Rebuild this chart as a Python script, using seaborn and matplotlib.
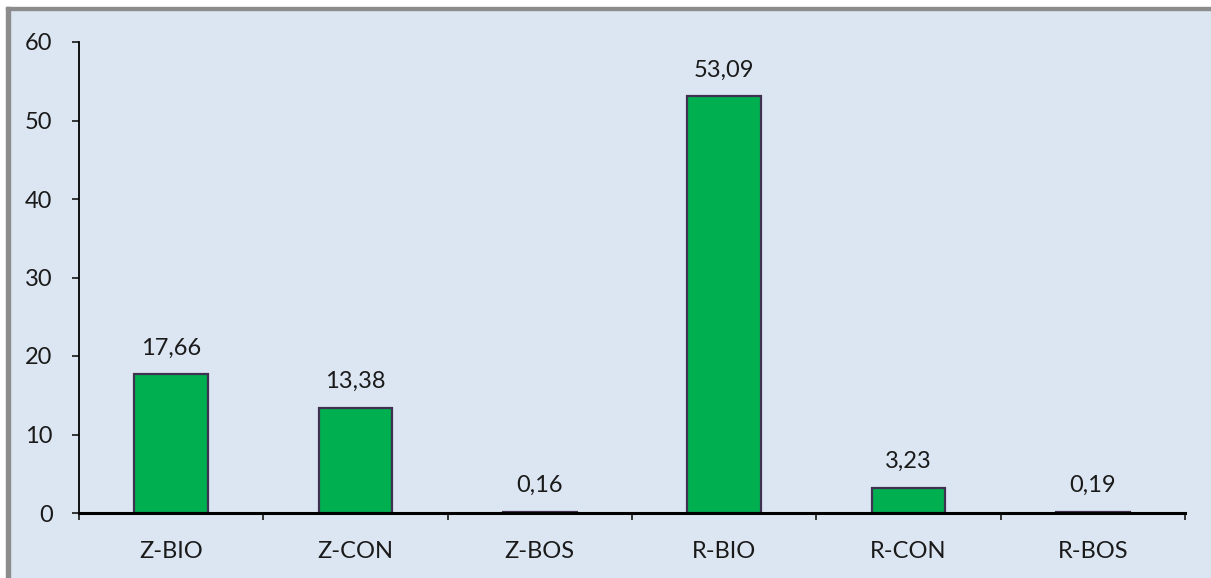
import numpy as np
import matplotlib.pyplot as plt
import matplotlib.patches as mpatches
import seaborn as sns

categories = ["Z-BIO", "Z-CON", "Z-BOS", "R-BIO", "R-CON", "R-BOS"]
values = [17.66, 13.38, 0.16, 53.09, 3.23, 0.19]
labels = ["17,66", "13,38", "0,16", "53,09", "3,23", "0,19"]

bg = "#DCE6F2"
sns.set_style("white")
plt.rcParams["font.family"] = ["Lato", "DejaVu Sans"]

fig = plt.figure(figsize=(12.11, 5.78), dpi=100, facecolor="white")
# light blue panel inside a thin gray frame
fig.add_artist(mpatches.Rectangle((6 / 1211, 0), 1, 1 - 7 / 578, transform=fig.transFigure,
                                  facecolor=bg, edgecolor="none", zorder=0))
fig.add_artist(mpatches.Rectangle((6 / 1211, 0), 4 / 1211, 1 - 7 / 578, transform=fig.transFigure,
                                  color="#8C8C8C", zorder=1))
fig.add_artist(mpatches.Rectangle((6 / 1211, 1 - 10 / 578), 1, 3 / 578, transform=fig.transFigure,
                                  color="#8C8C8C", zorder=1))

ax = fig.add_axes([79 / 1211, 1 - 513 / 578, (1185 - 79) / 1211, (513 - 42) / 578])
ax.set_facecolor(bg)

sns.barplot(x=categories, y=values, color="#00B050", width=0.4,
            edgecolor="#3F3151", linewidth=1.6, saturation=1, ax=ax)

for i, (v, lab) in enumerate(zip(values, labels)):
    ax.annotate(lab, (i, v), xytext=(0, 19), textcoords="offset points",
                ha="center", va="center", fontsize=17, color="#1a1a1a")

ax.set_xlim(-0.5, 5.5)
ax.set_ylim(0, 60)
ax.set_yticks(np.arange(0, 61, 10))
ax.tick_params(axis="y", direction="out", length=5, width=1.3, labelsize=17, pad=14,
               left=True, labelcolor="#1a1a1a")

# tick marks between categories, labels centred under bars
ax.set_xticks(np.arange(-0.5, 6, 1))
ax.set_xticklabels([])
ax.tick_params(axis="x", which="major", direction="out", length=5, width=1.3, bottom=True)
ax.set_xticks(np.arange(6), minor=True)
ax.set_xticklabels(categories, minor=True)
ax.tick_params(axis="x", which="minor", length=0, labelsize=17, pad=20, labelcolor="#1a1a1a")

for s in ["top", "right"]:
    ax.spines[s].set_visible(False)
ax.spines["left"].set_linewidth(1.3)
ax.spines["bottom"].set_linewidth(2.2)
ax.spines["left"].set_color("black")
ax.spines["bottom"].set_color("black")
ax.set_xlabel("")
ax.set_ylabel("")

fig.savefig("out.png", dpi=100, facecolor="white")
